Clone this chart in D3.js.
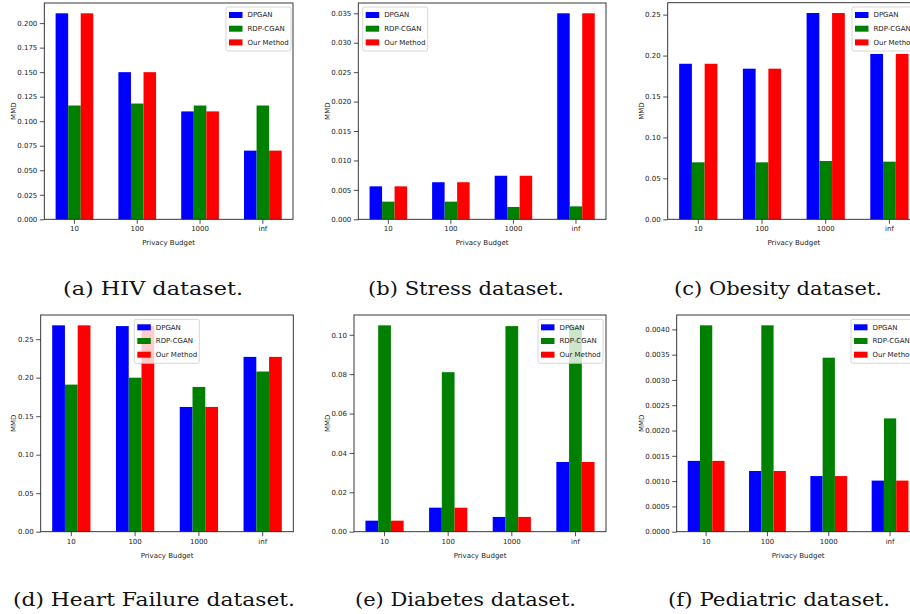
<!DOCTYPE html>
<html>
<head>
<meta charset="utf-8">
<script src="https://cdn.jsdelivr.net/npm/d3@7"></script>
<style>
  body { margin: 0; background: #fff; }
  svg { display: block; }
  .tick text { font-family: "DejaVu Sans", sans-serif; font-size: 7px; fill: #222; }
  .tick line { stroke: #222; stroke-width: 0.8; }
  .lab { font-family: "DejaVu Sans", sans-serif; font-size: 7px; fill: #222; }
  .cap { font-family: "DejaVu Serif", serif; font-size: 19px; fill: #111; }
</style>
</head>
<body>
<script>

// x categories and series
var categories = ["10", "100", "1000", "inf"];
var series = ["DPGAN", "RDP-CGAN", "Our Method"];
var seriesColors = ["#0000ff", "#008000", "#ff0000"];

// MMD values
var hivDPGAN = [0.210, 0.150, 0.110, 0.070];
var hivRDP   = [0.116, 0.118, 0.116, 0.116];
var hivOurs  = [0.210, 0.150, 0.110, 0.070];

var stressDPGAN = [0.0056, 0.0063, 0.0074, 0.0350];
var stressRDP   = [0.0030, 0.0030, 0.0021, 0.0022];
var stressOurs  = [0.0056, 0.0063, 0.0074, 0.0350];

var obesityDPGAN = [0.190, 0.184, 0.252, 0.202];
var obesityRDP   = [0.0696, 0.0696, 0.0712, 0.0704];
var obesityOurs  = [0.190, 0.184, 0.252, 0.202];

var heartDPGAN = [0.268, 0.267, 0.162, 0.227];
var heartRDP   = [0.191, 0.200, 0.188, 0.208];
var heartOurs  = [0.268, 0.267, 0.162, 0.227];

var diabetesDPGAN = [0.0056, 0.0122, 0.0075, 0.0354];
var diabetesRDP   = [0.1048, 0.0810, 0.1044, 0.1045];
var diabetesOurs  = [0.0056, 0.0122, 0.0075, 0.0354];

var pediatricDPGAN = [0.00140, 0.00120, 0.00110, 0.00101];
var pediatricRDP   = [0.00408, 0.00408, 0.00344, 0.00224];
var pediatricOurs  = [0.00140, 0.00120, 0.00110, 0.00101];

// y tick values
var hivTicks = [0, 0.025, 0.05, 0.075, 0.1, 0.125, 0.15, 0.175, 0.2];
var stressTicks = [0, 0.005, 0.01, 0.015, 0.02, 0.025, 0.03, 0.035];
var obesityTicks = [0, 0.05, 0.1, 0.15, 0.2, 0.25];
var heartTicks = [0, 0.05, 0.1, 0.15, 0.2, 0.25];
var diabetesTicks = [0, 0.02, 0.04, 0.06, 0.08, 0.1];
var pediatricTicks = [0, 0.0005, 0.001, 0.0015, 0.002, 0.0025, 0.003, 0.0035, 0.004];

var panels = [
  {caption: "(a) HIV dataset.", vals: [hivDPGAN, hivRDP, hivOurs], ticks: hivTicks, fmt: ".3f",
   L: 44.3, R: 293, T: 3, B: 219.3, leg: [226, 7], ylabX: 14, capX: 153, capY: 295, capW: 180},
  {caption: "(b) Stress dataset.", vals: [stressDPGAN, stressRDP, stressOurs], ticks: stressTicks, fmt: ".3f",
   L: 358.3, R: 606, T: 3, B: 219.3, leg: [362.7, 7], ylabX: 328, capX: 466, capY: 295, capW: 196},
  {caption: "(c) Obesity dataset.", vals: [obesityDPGAN, obesityRDP, obesityOurs], ticks: obesityTicks, fmt: ".2f",
   L: 667.7, R: 920, T: 2.7, B: 219.3, leg: [852, 7], ylabX: 641.7, capX: 778, capY: 295, capW: 208},
  {caption: "(d) Heart Failure dataset.", vals: [heartDPGAN, heartRDP, heartOurs], ticks: heartTicks, fmt: ".2f",
   L: 40.7, R: 293.3, T: 315, B: 531.7, leg: [134.3, 319.3], ylabX: 14, capX: 154, capY: 606, capW: 282},
  {caption: "(e) Diabetes dataset.", vals: [diabetesDPGAN, diabetesRDP, diabetesOurs], ticks: diabetesTicks, fmt: ".2f",
   L: 354, R: 606, T: 315, B: 531.7, leg: [538, 319.3], ylabX: 328, capX: 465.5, capY: 606, capW: 221},
  {caption: "(f) Pediatric dataset.", vals: [pediatricDPGAN, pediatricRDP, pediatricOurs], ticks: pediatricTicks, fmt: ".4f",
   L: 676.7, R: 919.5, T: 315, B: 531.7, leg: [851, 319.3], ylabX: 641.7, capX: 779, capY: 606, capW: 222}
];

var svg = d3.select("body").append("svg")
    .attr("width", 910)
    .attr("height", 614);

panels.forEach(function(p) {

    var x = d3.scaleBand().domain(categories).range([p.L, p.R])
        .paddingInner(0.4).paddingOuter(0.18);
    var xs = d3.scaleBand().domain(series).range([0, x.bandwidth()]);

    var ymax = d3.max(p.vals, function(v) { return d3.max(v); }) * 1.05;
    var y = d3.scaleLinear().domain([0, ymax]).range([p.B, p.T]);

    var g = svg.append("g");

    // bars
    series.forEach(function(s, j) {
        g.selectAll(".bar" + j)
          .data(p.vals[j])
          .enter().append("rect")
          .attr("x", function(d, i) { return x(categories[i]) + xs(s); })
          .attr("width", xs.bandwidth())
          .attr("y", function(d) { return y(d); })
          .attr("height", function(d) { return p.B - y(d); })
          .attr("fill", seriesColors[j]);
    });

    // axes
    var xa = g.append("g")
        .attr("transform", "translate(0," + p.B + ")")
        .call(d3.axisBottom(x).tickSize(4.5).tickPadding(2.5).tickSizeOuter(0));
    xa.select(".domain").remove();

    var ya = g.append("g")
        .attr("transform", "translate(" + p.L + ",0)")
        .call(d3.axisLeft(y).tickValues(p.ticks).tickFormat(d3.format(p.fmt))
              .tickSize(4.5).tickPadding(2.5).tickSizeOuter(0));
    ya.select(".domain").remove();

    // frame
    g.append("rect")
        .attr("x", p.L).attr("y", p.T)
        .attr("width", p.R - p.L).attr("height", p.B - p.T)
        .attr("fill", "none")
        .attr("stroke", "#222")
        .attr("stroke-width", 0.9);

    g.append("text")
        .attr("class", "lab")
        .attr("x", (p.L + Math.min(p.R, 910 + 10)) / 2)
        .attr("y", p.B + 26)
        .attr("text-anchor", "middle")
        .text("Privacy Budget");

    g.append("text")
        .attr("class", "lab")
        .attr("transform", "translate(" + p.ylabX + "," + ((p.T + p.B) / 2) + ") rotate(-90)")
        .attr("dy", "0.35em")
        .attr("text-anchor", "middle")
        .text("MMD");

    // legend
    var lg = g.append("g").attr("transform", "translate(" + p.leg[0] + "," + p.leg[1] + ")");
    lg.append("rect")
        .attr("width", 65).attr("height", 44)
        .attr("rx", 2)
        .attr("fill", "#fff").attr("fill-opacity", 0.8)
        .attr("stroke", "#ccc").attr("stroke-width", 0.8);

    var item = lg.selectAll(".item")
        .data(series)
        .enter().append("g")
        .attr("transform", function(d, i) { return "translate(0," + (8 + i * 13.7) + ")"; });
    item.append("rect")
        .attr("x", 3).attr("y", -3)
        .attr("width", 13.5).attr("height", 6)
        .attr("fill", function(d, i) { return seriesColors[i]; });
    item.append("text")
        .attr("class", "lab")
        .attr("x", 21.5)
        .attr("dy", "0.35em")
        .text(function(d) { return d; });

    // caption
    svg.append("text")
        .attr("class", "cap")
        .attr("x", p.capX - p.capW / 2)
        .attr("y", p.capY)
        .attr("textLength", p.capW)
        .attr("lengthAdjust", "spacingAndGlyphs")
        .text(p.caption);
});

</script>
</body>
</html>
